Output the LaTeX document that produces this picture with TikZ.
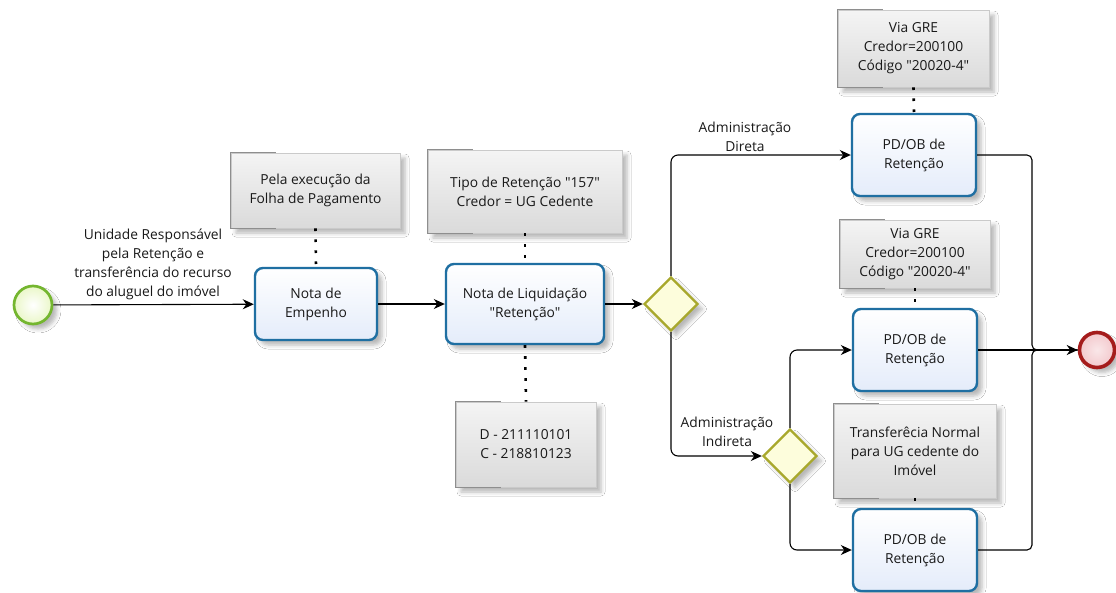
\documentclass[tikz,border=0pt]{standalone}
\usepackage{fontspec}
\setmainfont{Open Sans}[Ligatures=TeXOff]
\usetikzlibrary{arrows.meta,shapes.geometric,shadows.blur,calc}
\definecolor{taskblue}{HTML}{1F6FA2}
\definecolor{taskfill}{HTML}{E4ECFA}
\definecolor{gwborder}{HTML}{A8A82C}
\definecolor{gwfill}{HTML}{FDFDDC}
\definecolor{startgreen}{HTML}{74B62F}
\definecolor{startfill}{HTML}{EAF7C8}
\definecolor{endred}{HTML}{A51C1C}
\definecolor{endfill}{HTML}{F3C9CD}
\definecolor{annfilltop}{HTML}{F4F4F4}
\definecolor{annfillbot}{HTML}{DADADA}
\definecolor{annborder}{HTML}{CACACA}
\definecolor{annbracket}{HTML}{8E8E8E}
\tikzset{
  txt/.style={font=\fontsize{13.8}{19}\selectfont, align=center, text=black!90},
  shad/.style={blur shadow={shadow xshift=5pt, shadow yshift=-5pt, shadow blur radius=4pt, shadow opacity=28}},
  task/.style={txt, shape=rectangle, draw=taskblue, line width=2.4pt, rounded corners=8pt,
    top color=white, bottom color=taskfill, minimum width=124pt, minimum height=82pt, inner sep=2pt, shad},
  annot/.style={txt, shape=rectangle, draw=annborder, line width=0.8pt,
    top color=annfilltop, bottom color=annfillbot, inner sep=2pt, shad},
  gateway/.style={diamond, shape aspect=1, draw=gwborder, line width=2.4pt, fill=gwfill,
    minimum width=54pt, minimum height=54pt, inner sep=0pt, shad},
  startev/.style={circle, draw=startgreen, line width=2.7pt, inner color=white, outer color=startfill,
    minimum size=38pt, inner sep=0pt, shad},
  endev/.style={circle, draw=endred, line width=3.6pt, inner color=endfill!45, outer color=endfill,
    minimum size=35pt, inner sep=0pt, shad},
  flow/.style={draw=black, line width=1.1pt, -{Stealth[length=11pt,width=10pt,inset=3.5pt]}},
  plainflow/.style={draw=black, line width=1.1pt},
  assoc/.style={draw=black, line width=2.6pt, dash pattern=on 2.6pt off 8.4pt},
  bracketline/.style={draw=annbracket, line width=1pt},
  flowlabel/.style={txt}
}
\begin{document}
\begin{tikzpicture}[x=1pt,y=-1pt]
\useasboundingbox (0,0) rectangle (1116,592);
\fill[white] (0,0) rectangle (1116,592);

% annotations
\node[annot, minimum width=169pt, minimum height=75pt] (a1) at (315.5,190.5) {Pela execução da\\Folha de Pagamento};
\node[annot, minimum width=194pt, minimum height=83pt] (a2) at (525,191.5) {Tipo de Retenção "157"\\Credor = UG Cedente};
\node[annot, minimum width=140pt, minimum height=85pt] (a3) at (526,444.5) {D - 211110101\\C - 218810123};
\node[annot, minimum width=151pt, minimum height=77pt] (a4) at (913.5,48.5) {Via GRE\\Credor=200100\\Código "20020-4"};
\node[annot, minimum width=150pt, minimum height=68pt] (a5) at (915,254) {Via GRE\\Credor=200100\\Código "20020-4"};
\node[annot, minimum width=162pt, minimum height=94pt] (a6) at (915,451) {Transferêcia Normal\\para UG cedente do\\Imóvel};
\foreach \a in {a1,a2,a3,a4,a5,a6}{
  \draw[bracketline] ($(\a.north west)+(45,0)$) -- (\a.north west) -- (\a.south west) -- ($(\a.south west)+(45,0)$);
}

% events, tasks, gateways
\node[startev] (start) at (33,305) {};
\node[task, minimum width=122pt, minimum height=72pt] (ne) at (316,304) {Nota de\\Empenho};
\node[task, minimum width=158pt, minimum height=80pt] (nl) at (525,304) {Nota de Liquidação\\"Retenção"};
\node[gateway] (g1) at (671,304) {};
\node[gateway] (g2) at (790,456) {};
\node[task] (p1) at (914,155) {PD/OB de\\Retenção};
\node[task] (p2) at (915,350) {PD/OB de\\Retenção};
\node[task] (p3) at (915,550) {PD/OB de\\Retenção};
\node[endev] (ev) at (1097,350) {};
\coordinate (jn) at (1032,350);

% associations
\draw[assoc] (a1.south) -- (ne.north);
\draw[assoc] (a2.south) -- (nl.north);
\draw[assoc] (nl.south) -- (a3.north);
\draw[assoc] (a4.south) -- (p1.north);
\draw[assoc] (a5.south) -- (p2.north);
\draw[assoc] (a6.south) -- (p3.north);

% sequence flows
\draw[flow] (start) -- (ne);
\node[flowlabel] (l0) at (153,264) {Unidade Responsável\\pela Retenção e\\transferência do recurso\\do aluguel do imóvel};
\draw[flow] (ne) -- (nl);
\draw[flow] (nl) -- (g1);
\draw[flow, rounded corners=7pt] (g1.north) |- (p1.west);
\node[flowlabel] (l1) at (745,137) {Administração\\Direta};
\draw[flow, rounded corners=7pt] (g1.south) |- (g2.west);
\node[flowlabel] (l2) at (727,432) {Administração\\Indireta};
\draw[flow, rounded corners=7pt] (g2.north) |- (p2.west);
\draw[flow, rounded corners=7pt] (g2.south) |- (p3.west);
\draw[plainflow, rounded corners=5pt] (p1.east) -| (jn) -- (ev.west);
\draw[plainflow, rounded corners=5pt] (p3.east) -| (jn) -- (ev.west);
\draw[flow] (p2.east) -- (ev.west);
\end{tikzpicture}
\end{document}
